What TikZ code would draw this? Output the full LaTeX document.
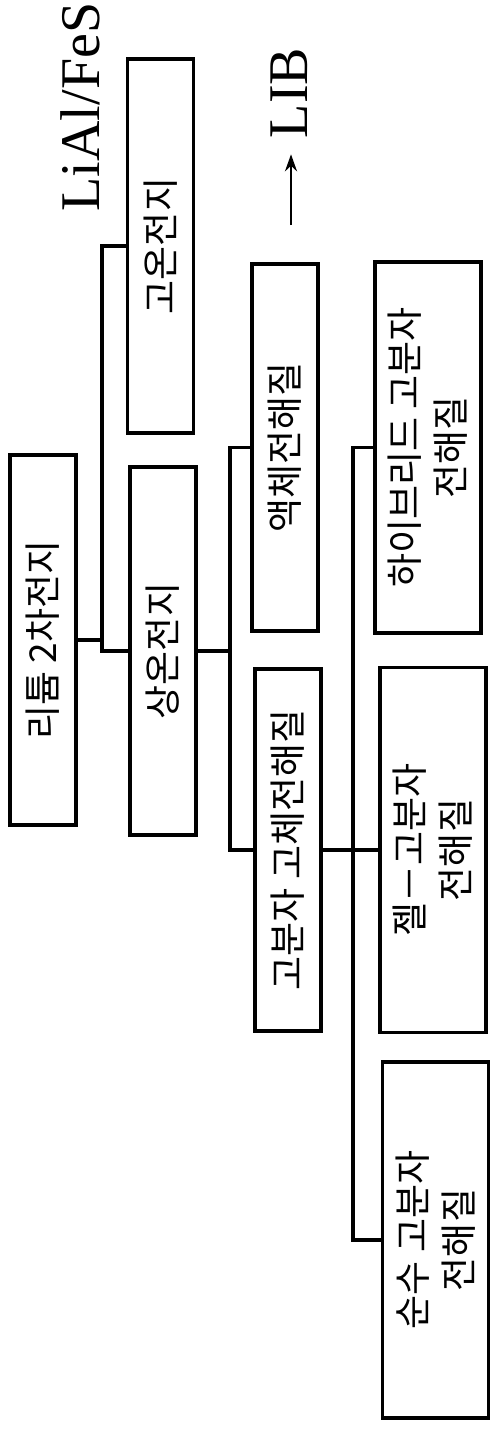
\documentclass[tikz,border=0pt]{standalone}
\usepackage{fontspec}
\usepackage{tikz}
\usetikzlibrary{arrows.meta}
\setmainfont{Liberation Serif}
\newfontfamily\krfont{Noto Sans CJK KR}

\begin{document}
\begin{tikzpicture}[x=1pt, y=1pt,
    cell/.style={draw, line width=3.5pt, rotate=90, inner sep=0pt, align=center,
        minimum height=66pt, font=\krfont\fontsize{37}{46}\selectfont},
    widecell/.style={cell, minimum height=106pt},
    link/.style={line width=3.5pt},
    tag/.style={rotate=90, inner sep=0pt, font=\fontsize{56}{60}\selectfont}]
    \useasboundingbox (0,0) rectangle (491,-1437);

    % Root
    \node[cell, minimum width=370pt] (li) at (43,-640) {리튬 2차전지};

    % Level 1: high / room temperature
    \node[cell, minimum width=374pt] (hot) at (160.5,-246) {고온전지};
    \node[cell, minimum width=368pt] (room) at (163,-651) {상온전지};

    % Level 2: electrolytes
    \node[cell, minimum width=367pt] (liq) at (285,-447.5) {액체전해질};
    \node[cell, minimum width=362pt] (poly) at (288,-850) {고분자 고체전해질};

    % Level 3: polymer electrolytes
    \node[widecell, minimum width=371pt] (hyb) at (428,-447.5) {하이브리드 고분자\\전해질};
    \node[widecell, minimum width=365pt] (gel) at (433,-850) {젤－고분자\\전해질};
    \node[widecell, minimum width=356pt] (pure) at (435.5,-1240) {순수 고분자\\전해질};

    % Tree lines
    \draw[link] (li.south) -- ++(24,0) coordinate (j1);
    \draw[link] (hot.north) -| (j1) |- (room.north);
    \draw[link] (room.south) -- ++(32,0) coordinate (j2);
    \draw[link] (liq.north) -| (j2) |- (poly.north);
    \draw[link] (poly.south) -- ++(30,0) coordinate (j3);
    \draw[link] (hyb.north) -| (j3) |- (pure.north);
    \draw[link] (j3) -- (gel.north);

    % Side labels
    \node[tag, anchor=base] (fes) at (99,-107) {LiAl/FeS};
    \node[tag] (lib) at (289,-93) {LIB};
    \coordinate (arr) at (291,-225);
    \draw[-{Stealth[length=17pt, width=12pt]}, line width=2.5pt, shorten >=16pt] (arr) -- (arr |- lib.west);
\end{tikzpicture}
\end{document}
